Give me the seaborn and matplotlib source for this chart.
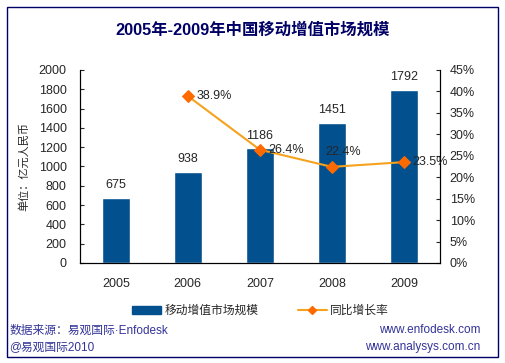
import numpy as np
import pandas as pd
import seaborn as sns
import matplotlib.pyplot as plt
from matplotlib.patches import Rectangle
from matplotlib.lines import Line2D
from matplotlib.ticker import PercentFormatter

sns.set_style("white")
plt.rcParams['font.family'] = ['Liberation Sans', 'Noto Sans CJK SC', 'DejaVu Sans']

# data
years = ['2005', '2006', '2007', '2008', '2009']
market = [675, 938, 1186, 1451, 1792]
growth_years = ['2006', '2007', '2008', '2009']
growth = [0.389, 0.264, 0.224, 0.235]

bar_color = '#03508F'
line_color = '#F5A21E'
marker_color = '#FF6A00'
navy = '#000066'

df = pd.DataFrame({'year': years, 'market': market})

fig = plt.figure(figsize=(5.05, 3.63), dpi=100)
ax = fig.add_axes([0.158, 0.2755, 0.713, 0.532])

sns.barplot(data=df, x='year', y='market', color=bar_color, width=0.39,
            saturation=1, ax=ax)
ax.bar_label(ax.containers[0], fmt='%d', padding=5, fontsize=9)
ax.set_ylim(0, 2000)
ax.set_yticks(np.arange(0, 2001, 200))
ax.set_xticks([0.5, 1.5, 2.5, 3.5], minor=True)
ax.set_xlim(-0.5, 4.5)
ax.set_xlabel('')
ax.set_ylabel('单位：亿元人民币', fontsize=8, labelpad=7)
ax.tick_params(axis='y', direction='in', length=3, labelsize=9, pad=9.5)
ax.tick_params(axis='x', which='major', length=0, labelsize=9, pad=11)
ax.tick_params(axis='x', which='minor', direction='in', length=3, width=0.8)

# growth line on secondary axis
ax2 = ax.twinx()
gx = [years.index(y) for y in growth_years]
sns.lineplot(x=gx, y=growth, color=line_color, lw=1.5, marker='D', markersize=6,
             markerfacecolor=marker_color, markeredgecolor=marker_color, ax=ax2)
offsets = [(6, 0), (6, 0), (-5, 11), (6, 0)]
for xi, g, off in zip(gx, growth, offsets):
    ax2.annotate(f'{g*100:.1f}%', (xi, g), xytext=off, textcoords='offset points',
                 va='center', ha='left', fontsize=9)
ax2.set_ylim(0, 0.45)
ax2.set_yticks(np.arange(0, 0.451, 0.05))
ax2.yaxis.set_major_formatter(PercentFormatter(1.0, decimals=0))
ax2.tick_params(axis='y', direction='in', length=3, labelsize=9, pad=7)
ax.set_xlim(-0.5, 4.5)

for a in (ax, ax2):
    a.spines['top'].set_visible(False)
    for s in ('left', 'right', 'bottom'):
        a.spines[s].set_color('black')
        a.spines[s].set_linewidth(0.8)

# title
fig.text(0.5, 0.917, '2005年-2009年中国移动增值市场规模', ha='center', va='center',
         fontsize=11.8, fontweight='bold', color=navy)

# legend
handles = [Rectangle((0, 0), 1, 1, color=bar_color),
           Line2D([0], [0], color=line_color, lw=1.5, marker='D', markersize=4,
                  markerfacecolor=marker_color, markeredgecolor=marker_color)]
fig.legend(handles, ['移动增值市场规模', '同比增长率'], loc='center',
           bbox_to_anchor=(0.516, 0.143), ncol=2, frameon=False, fontsize=8.5,
           columnspacing=3.4, handlelength=2.4, handletextpad=0.3)

# footer
foot = '#333399'
fig.text(0.018, 0.09, '数据来源：易观国际·Enfodesk', fontsize=8.5, color=foot, va='center')
fig.text(0.018, 0.045, '@易观国际2010', fontsize=8.5, color=foot, va='center')
fig.text(0.952, 0.09, 'www.enfodesk.com', fontsize=8.5, color=foot, va='center', ha='right')
fig.text(0.952, 0.045, 'www.analysys.com.cn', fontsize=8.5, color=foot, va='center', ha='right')

# outer frame
fig.patches.append(Rectangle((0.014, 0.017), 0.972, 0.963, transform=fig.transFigure,
                             fill=False, edgecolor=navy, lw=1))

fig.savefig('out.png', dpi=100)
